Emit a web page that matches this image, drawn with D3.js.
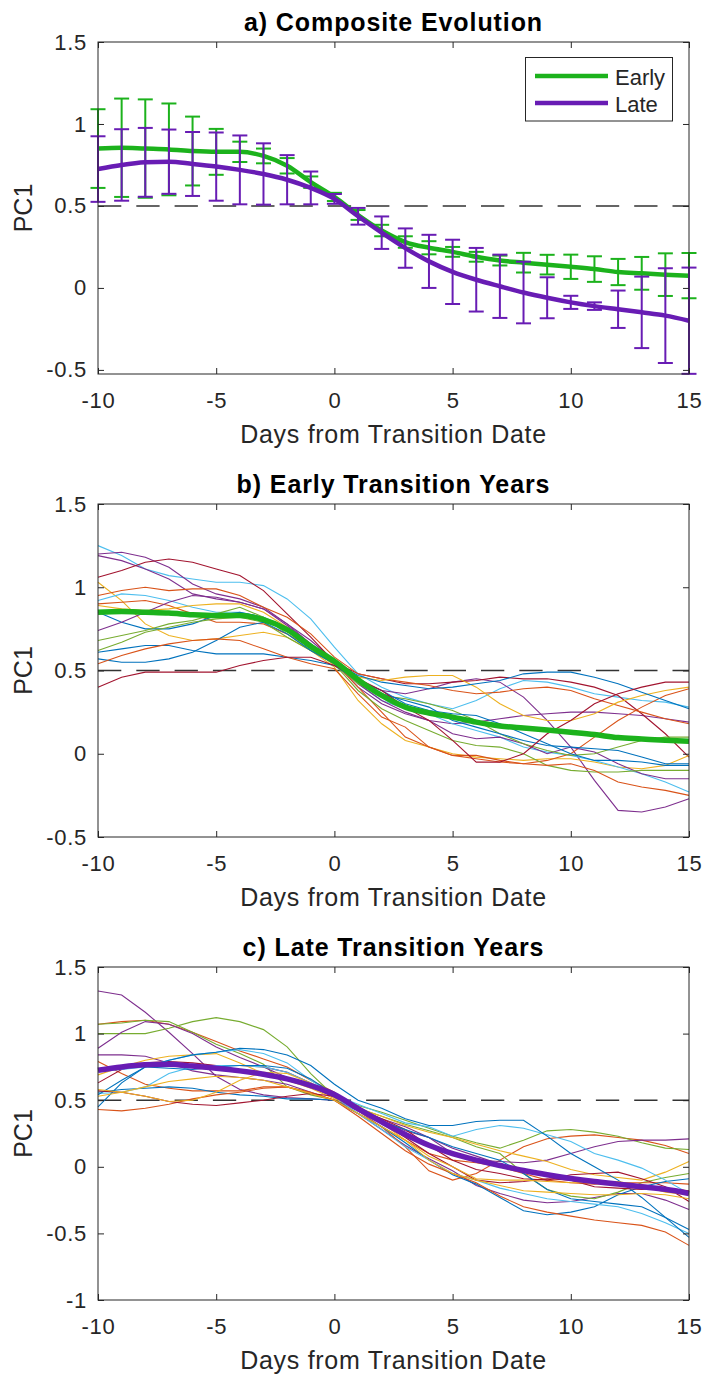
<!DOCTYPE html>
<html><head><meta charset="utf-8">
<script src="https://cdn.jsdelivr.net/npm/d3@7"></script>
<style>
body{margin:0;background:#fff}
svg{display:block}
text{font-family:"Liberation Sans",Arial,Helvetica,sans-serif}
</style>
</head><body>
<svg id="chart" width="704" height="1374"></svg>
<script>
// ---------------- DATA ----------------
const days = [-10,-9,-8,-7,-6,-5,-4,-3,-2,-1,0,1,2,3,4,5,6,7,8,9,10,11,12,13,14,15];
const xTicks = [-10,-5,0,5,10,15];
const yTicksAB = [-0.5,0,0.5,1,1.5];
const yTicksC = [-1,-0.5,0,0.5,1,1.5];
const threshold = 0.5;

const titles = ["a) Composite Evolution","b) Early Transition Years","c) Late Transition Years"];
const xLabel = "Days from Transition Date";
const yLabel = "PC1";
const legendLabels = ["Early","Late"];

// Composite means and error half-widths
const earlyMean = [0.85,0.855,0.85,0.845,0.835,0.83,0.83,0.805,0.745,0.645,0.555,0.445,0.35,0.28,0.245,0.22,0.19,0.167,0.154,0.142,0.129,0.115,0.097,0.089,0.081,0.075];
const earlyErr  = [0.24,0.30,0.30,0.28,0.21,0.14,0.062,0.045,0.047,0.035,0.025,0.03,0.035,0.035,0.04,0.03,0.03,0.03,0.06,0.06,0.074,0.078,0.08,0.10,0.13,0.138];
const lateMean  = [0.725,0.75,0.766,0.77,0.756,0.74,0.72,0.695,0.66,0.61,0.543,0.437,0.337,0.243,0.162,0.098,0.05,0.01,-0.028,-0.06,-0.088,-0.111,-0.13,-0.149,-0.169,-0.2];
const lateErr   = [0.20,0.218,0.21,0.196,0.195,0.208,0.21,0.187,0.15,0.10,0.03,0.051,0.099,0.12,0.162,0.196,0.194,0.193,0.188,0.125,0.04,0.023,0.114,0.218,0.289,0.324];

// Individual early transition years
const earlyYears = [
 [1.25,1.19,1.11,1.07,1.05,1.03,1.03,1.01,0.93,0.81,0.64,0.48,0.40,0.34,0.30,0.27,0.32,0.39,0.44,0.43,0.40,0.36,0.34,0.32,0.31,0.28],
 [1.20,1.21,1.18,1.12,1.02,0.96,0.93,0.88,0.78,0.68,0.56,0.44,0.38,0.36,0.39,0.43,0.45,0.43,0.34,0.20,0.04,-0.16,-0.34,-0.35,-0.32,-0.27],
 [1.19,1.16,1.11,1.05,0.96,0.93,0.91,0.87,0.78,0.66,0.55,0.40,0.30,0.24,0.20,0.18,0.19,0.21,0.23,0.24,0.25,0.25,0.24,0.23,0.21,0.19],
 [1.06,1.10,1.15,1.17,1.15,1.11,1.07,0.98,0.84,0.70,0.55,0.48,0.45,0.42,0.42,0.43,0.44,0.46,0.45,0.45,0.43,0.40,0.35,0.24,0.12,-0.02],
 [1.03,0.92,0.78,0.71,0.68,0.69,0.71,0.73,0.70,0.62,0.52,0.32,0.18,0.08,0.04,0.00,-0.02,-0.03,-0.04,-0.03,-0.03,-0.05,-0.08,-0.09,-0.07,-0.01],
 [0.95,0.98,1.00,0.98,0.99,0.99,0.95,0.88,0.82,0.72,0.58,0.48,0.45,0.43,0.41,0.38,0.36,0.37,0.39,0.40,0.38,0.33,0.29,0.25,0.21,0.18],
 [0.92,0.96,0.95,0.92,0.88,0.85,0.85,0.82,0.76,0.66,0.56,0.42,0.32,0.27,0.24,0.18,0.14,0.10,0.04,0.01,-0.01,-0.04,-0.08,-0.12,-0.17,-0.23],
 [0.90,0.91,0.92,0.89,0.84,0.79,0.79,0.78,0.72,0.64,0.55,0.40,0.25,0.10,0.04,-0.01,-0.03,-0.05,-0.06,-0.04,0.00,0.10,0.20,0.28,0.35,0.39],
 [0.89,0.87,0.86,0.87,0.89,0.90,0.90,0.85,0.76,0.64,0.53,0.46,0.44,0.46,0.47,0.47,0.40,0.30,0.23,0.20,0.20,0.24,0.31,0.35,0.38,0.40],
 [0.85,0.79,0.75,0.75,0.78,0.83,0.85,0.82,0.74,0.64,0.55,0.47,0.43,0.41,0.39,0.40,0.42,0.44,0.48,0.49,0.49,0.46,0.42,0.37,0.32,0.27],
 [0.74,0.79,0.85,0.91,0.95,0.94,0.91,0.87,0.77,0.66,0.55,0.42,0.32,0.25,0.20,0.12,0.09,0.10,0.06,0.00,0.04,0.01,-0.06,-0.12,-0.15,-0.15],
 [0.68,0.71,0.74,0.78,0.80,0.84,0.88,0.82,0.72,0.62,0.54,0.42,0.35,0.33,0.30,0.26,0.20,0.12,0.06,0.02,-0.01,0.00,0.04,0.08,0.10,0.10],
 [0.62,0.67,0.73,0.76,0.79,0.81,0.82,0.79,0.70,0.62,0.54,0.38,0.27,0.20,0.14,0.08,0.05,0.04,0.00,-0.07,-0.10,-0.11,-0.11,-0.10,-0.10,-0.10],
 [0.61,0.63,0.65,0.65,0.62,0.60,0.60,0.60,0.58,0.56,0.53,0.44,0.36,0.32,0.28,0.20,0.16,0.12,0.08,0.05,0.04,0.03,0.02,-0.02,-0.06,-0.06],
 [0.57,0.55,0.55,0.57,0.61,0.68,0.76,0.79,0.72,0.62,0.54,0.44,0.38,0.30,0.26,0.24,0.23,0.18,0.12,0.06,0.00,-0.04,-0.04,-0.05,-0.07,-0.07],
 [0.54,0.59,0.63,0.66,0.68,0.69,0.68,0.63,0.58,0.54,0.51,0.36,0.22,0.16,0.04,-0.01,-0.01,-0.04,-0.06,-0.07,-0.06,-0.10,-0.17,-0.20,-0.22,-0.25],
 [0.40,0.46,0.49,0.49,0.49,0.49,0.53,0.56,0.58,0.58,0.53,0.45,0.38,0.28,0.20,0.08,-0.05,-0.05,0.00,0.12,0.20,0.30,0.36,0.40,0.43,0.43]
];
const earlyYearColor = [5,3,3,6,2,1,5,1,2,0,3,4,4,0,0,1,6];

// Individual late transition years
const lateYears = [
 [1.32,1.29,1.16,1.01,0.85,0.68,0.58,0.54,0.52,0.51,0.50,0.40,0.28,0.16,0.06,-0.03,-0.14,-0.20,-0.25,-0.27,-0.26,-0.23,-0.20,-0.20,-0.25,-0.32],
 [1.07,1.09,1.10,1.07,1.01,0.94,0.87,0.81,0.75,0.65,0.56,0.42,0.30,0.15,-0.03,-0.10,-0.05,0.05,0.15,0.21,0.23,0.24,0.22,0.20,0.16,0.10],
 [1.07,1.08,1.10,1.09,1.01,0.92,0.85,0.77,0.60,0.54,0.50,0.44,0.38,0.32,0.27,0.22,0.15,0.10,-0.05,-0.17,-0.22,-0.24,-0.19,-0.12,-0.08,-0.05],
 [1.00,1.00,1.00,1.04,1.09,1.12,1.09,1.03,0.90,0.70,0.53,0.46,0.41,0.35,0.29,0.23,0.18,0.14,0.20,0.27,0.28,0.26,0.23,0.18,0.14,0.13],
 [0.89,1.01,1.09,1.07,1.00,0.90,0.82,0.75,0.67,0.60,0.52,0.42,0.35,0.27,0.22,0.10,0.05,0.04,0.03,0.05,0.10,0.15,0.19,0.20,0.20,0.21],
 [0.84,0.84,0.83,0.78,0.72,0.69,0.67,0.65,0.62,0.56,0.50,0.42,0.36,0.30,0.22,0.14,0.08,0.02,-0.02,-0.05,-0.08,-0.10,-0.12,-0.15,-0.18,-0.20],
 [0.79,0.70,0.62,0.59,0.57,0.57,0.57,0.60,0.60,0.55,0.50,0.40,0.30,0.20,0.10,0.05,0.03,0.00,-0.05,-0.10,-0.12,-0.13,-0.12,-0.12,-0.12,-0.13],
 [0.69,0.75,0.80,0.83,0.84,0.85,0.78,0.70,0.65,0.59,0.51,0.44,0.38,0.31,0.26,0.22,0.17,0.12,0.08,0.04,-0.02,-0.06,-0.08,-0.10,-0.04,0.04],
 [0.63,0.73,0.78,0.79,0.78,0.76,0.76,0.75,0.71,0.63,0.53,0.44,0.36,0.28,0.16,0.05,-0.02,-0.05,-0.09,-0.10,-0.06,-0.05,-0.04,-0.09,-0.15,-0.26],
 [0.56,0.58,0.59,0.60,0.59,0.56,0.54,0.53,0.51,0.51,0.50,0.40,0.30,0.18,0.05,-0.06,-0.13,-0.23,-0.33,-0.36,-0.34,-0.30,-0.21,-0.15,-0.11,-0.09],
 [0.55,0.56,0.60,0.70,0.75,0.76,0.76,0.75,0.71,0.63,0.53,0.40,0.28,0.15,0.05,-0.05,-0.10,-0.16,-0.20,-0.24,-0.26,-0.28,-0.30,-0.35,-0.42,-0.50],
 [0.72,0.73,0.75,0.80,0.84,0.86,0.88,0.85,0.78,0.65,0.54,0.47,0.40,0.33,0.30,0.23,0.28,0.31,0.29,0.24,0.19,0.10,0.05,-0.01,-0.10,-0.20],
 [0.54,0.65,0.75,0.80,0.84,0.86,0.89,0.88,0.84,0.76,0.62,0.50,0.44,0.36,0.31,0.31,0.34,0.35,0.35,0.23,0.10,0.00,-0.10,-0.23,-0.38,-0.53],
 [0.45,0.63,0.75,0.74,0.73,0.75,0.76,0.76,0.74,0.66,0.54,0.42,0.34,0.28,0.22,0.15,0.10,0.05,-0.05,-0.17,-0.24,-0.26,-0.28,-0.30,-0.38,-0.47],
 [0.43,0.42,0.44,0.47,0.51,0.54,0.56,0.59,0.60,0.56,0.50,0.38,0.25,0.12,0.02,-0.05,-0.12,-0.22,-0.30,-0.34,-0.37,-0.40,-0.42,-0.44,-0.49,-0.59],
 [0.57,0.56,0.53,0.49,0.47,0.46,0.48,0.50,0.53,0.55,0.53,0.42,0.33,0.22,0.10,0.00,-0.10,-0.12,-0.11,-0.09,-0.10,-0.15,-0.16,-0.17,-0.16,-0.18],
 [0.53,0.56,0.60,0.64,0.66,0.68,0.67,0.65,0.60,0.55,0.50,0.40,0.30,0.20,0.08,0.00,-0.09,-0.10,-0.10,-0.11,-0.12,-0.12,-0.11,-0.14,-0.19,-0.21],
 [0.58,0.56,0.53,0.49,0.50,0.56,0.65,0.71,0.70,0.63,0.53,0.42,0.33,0.20,0.05,-0.05,-0.10,-0.14,-0.18,-0.19,-0.20,-0.21,-0.21,-0.20,-0.21,-0.24]
];
const lateYearColor = [3,1,4,4,3,3,1,2,6,0,5,5,0,0,1,6,2,2];

// ---------------- STYLE ----------------
const palette = ["#0072BD","#D95319","#EDB120","#7E2F8E","#77AC30","#4DBEEE","#A2142F"];
const earlyColor = "rgb(28,178,28)";
const lateColor = "rgb(104,28,180)";
const axisColor = "#262626";
const tickFont = 22, labelFont = 25, titleFont = 25;

const svg = d3.select("#chart");
const X0 = 98, X1 = 689;
const x = d3.scaleLinear().domain([-10,15]).range([X0,X1]);
const fmt = d => String(d);

function makePanel(top, bottom, yDomain, yTicks, title) {
  const y = d3.scaleLinear().domain(yDomain).range([bottom, top]);
  const g = svg.append("g");
  const plot = g.append("g");
  const axes = g.append("g");

  const ax = axes.append("g").attr("transform", `translate(0,${bottom})`)
    .call(d3.axisBottom(x).tickValues(xTicks).tickSizeInner(-6).tickSizeOuter(0).tickPadding(18).tickFormat(fmt));
  const at = axes.append("g").attr("transform", `translate(0,${top})`)
    .call(d3.axisTop(x).tickValues(xTicks).tickSizeInner(-6).tickSizeOuter(0).tickFormat(""));
  const ay = axes.append("g").attr("transform", `translate(${X0},0)`)
    .call(d3.axisLeft(y).tickValues(yTicks).tickSizeInner(-6).tickSizeOuter(0).tickPadding(11).tickFormat(fmt));
  const ar = axes.append("g").attr("transform", `translate(${X1},0)`)
    .call(d3.axisRight(y).tickValues(yTicks).tickSizeInner(-6).tickSizeOuter(0).tickFormat(""));
  [ax,at,ay,ar].forEach(a => {
    a.select(".domain").remove();
    a.selectAll(".tick line").attr("stroke", axisColor).attr("stroke-width", 1);
    a.selectAll(".tick text").attr("fill", axisColor).attr("font-size", tickFont)
      .attr("letter-spacing", 0.7)
      .attr("font-family", '"Liberation Sans",Arial,Helvetica,sans-serif');
  });
  axes.append("rect").attr("x", X0).attr("y", top).attr("width", X1 - X0).attr("height", bottom - top)
    .attr("fill", "none").attr("stroke", axisColor).attr("stroke-width", 1);

  g.append("text").attr("x", (X0 + X1) / 2).attr("y", top - 11).attr("text-anchor", "middle")
    .attr("font-size", titleFont).attr("font-weight", "bold").attr("letter-spacing", 0.9)
    .attr("fill", "#000").text(title);
  g.append("text").attr("x", (X0 + X1) / 2).attr("y", bottom + 69).attr("text-anchor", "middle")
    .attr("font-size", labelFont).attr("letter-spacing", 0.7).attr("fill", axisColor).text(xLabel);
  g.append("text").attr("transform", `translate(32,${(top + bottom) / 2}) rotate(-90)`)
    .attr("text-anchor", "middle").attr("font-size", labelFont).attr("fill", axisColor).text(yLabel);

  plot.append("line").attr("x1", x(-10)).attr("x2", x(15)).attr("y1", y(threshold)).attr("y2", y(threshold))
    .attr("stroke", "#333").attr("stroke-width", 1.5).attr("stroke-dasharray", "23.3,15");
  return {plot, y};
}

// ---------- Panel a ----------
{
  const {plot, y} = makePanel(42, 374, [-0.525, 1.5], yTicksAB, titles[0]);
  const series = [
    {mean: earlyMean, err: earlyErr, color: earlyColor},
    {mean: lateMean, err: lateErr, color: lateColor}
  ];
  const line = d3.line().x((d, i) => x(days[i])).y(d => y(d)).curve(d3.curveMonotoneX);
  series.forEach(s => {
    const eb = plot.append("g").attr("stroke", s.color).attr("stroke-width", 2).attr("fill", "none");
    days.forEach((dd, i) => {
      const cx = x(dd), lo = y(s.mean[i] - s.err[i]), hi = y(s.mean[i] + s.err[i]);
      eb.append("line").attr("x1", cx).attr("x2", cx).attr("y1", lo).attr("y2", hi);
      eb.append("line").attr("x1", cx - 7.5).attr("x2", cx + 7.5).attr("y1", lo).attr("y2", lo);
      eb.append("line").attr("x1", cx - 7.5).attr("x2", cx + 7.5).attr("y1", hi).attr("y2", hi);
    });
    plot.append("path").datum(s.mean).attr("d", line).attr("fill", "none")
      .attr("stroke", s.color).attr("stroke-width", 4.5).attr("stroke-linejoin", "round");
  });
  const lg = svg.append("g");
  lg.append("rect").attr("x", 525.5).attr("y", 57.5).attr("width", 147).attr("height", 63.5)
    .attr("fill", "#fff").attr("stroke", axisColor).attr("stroke-width", 1);
  [[earlyColor, 76, 85], [lateColor, 103, 111.7]].forEach((d, i) => {
    lg.append("line").attr("x1", 535).attr("x2", 608).attr("y1", d[1]).attr("y2", d[1])
      .attr("stroke", d[0]).attr("stroke-width", 4.5);
    lg.append("text").attr("x", 615).attr("y", d[2]).attr("font-size", 22).attr("fill", axisColor).text(legendLabels[i]);
  });
}

// ---------- Panel b ----------
{
  const {plot, y} = makePanel(504, 837, [-0.5, 1.5], yTicksAB, titles[1]);
  const thin = d3.line().x((d, i) => x(days[i])).y(d => y(d));
  earlyYears.forEach((yr, k) => {
    plot.append("path").datum(yr).attr("d", thin).attr("fill", "none")
      .attr("stroke", palette[earlyYearColor[k]]).attr("stroke-width", 1.1);
  });
  plot.append("path").datum(earlyMean).attr("d", d3.line().x((d, i) => x(days[i])).y(d => y(d)).curve(d3.curveMonotoneX))
    .attr("fill", "none").attr("stroke", earlyColor).attr("stroke-width", 5.5).attr("stroke-linejoin", "round");
}

// ---------- Panel c ----------
{
  const {plot, y} = makePanel(967, 1300, [-1, 1.5], yTicksC, titles[2]);
  const thin = d3.line().x((d, i) => x(days[i])).y(d => y(d));
  lateYears.forEach((yr, k) => {
    plot.append("path").datum(yr).attr("d", thin).attr("fill", "none")
      .attr("stroke", palette[lateYearColor[k]]).attr("stroke-width", 1.1);
  });
  plot.append("path").datum(lateMean).attr("d", d3.line().x((d, i) => x(days[i])).y(d => y(d)).curve(d3.curveMonotoneX))
    .attr("fill", "none").attr("stroke", lateColor).attr("stroke-width", 5.5).attr("stroke-linejoin", "round");
}
</script>
</body></html>
